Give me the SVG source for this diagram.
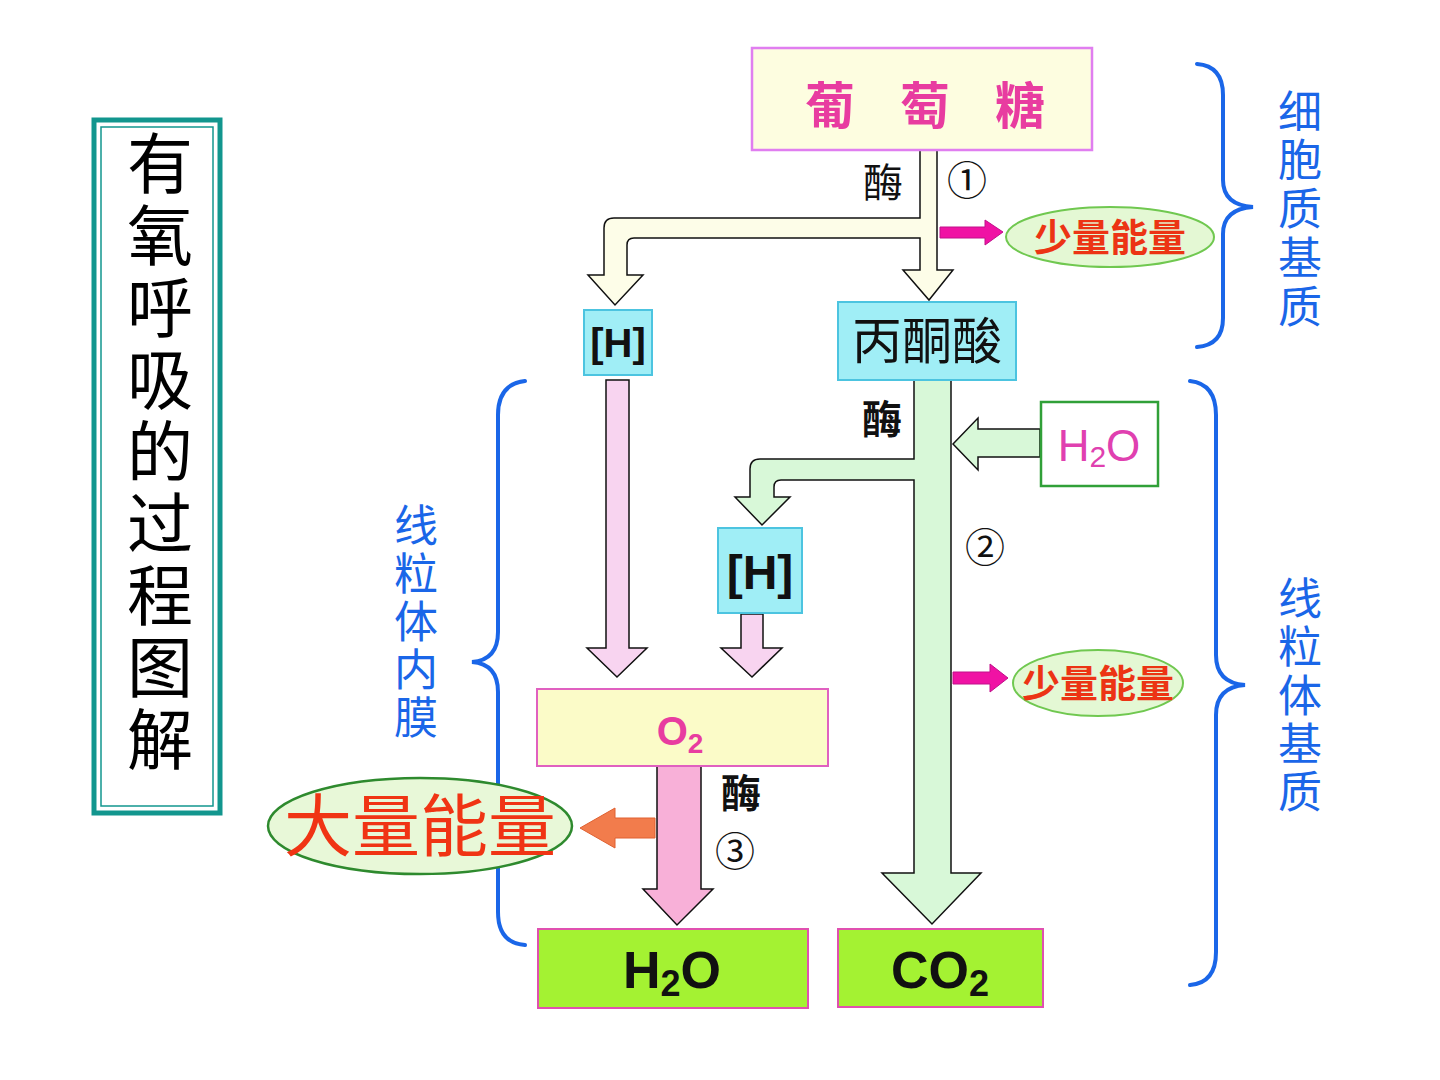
<svg xmlns="http://www.w3.org/2000/svg" width="1440" height="1080" viewBox="0 0 1440 1080">
<defs>
<style>
.cjk{font-family:"Noto Sans CJK SC","Noto Sans",sans-serif;}
.lat{font-family:"Liberation Sans",Arial,sans-serif;}
.blue{fill:#1a66e8;font-size:44px;}
.brace{fill:none;stroke:#1a66e8;stroke-width:4;stroke-linecap:round;}
.arr{stroke:#111;stroke-width:1.5;stroke-linejoin:miter;}
.mag{fill:#f012a4;stroke:#c0108a;stroke-width:1;}
.cyan{fill:#a0eef6;stroke:#4cc4e0;stroke-width:2;}
.lime{fill:#a4f232;stroke:#e050b0;stroke-width:2;}
.ell{fill:#e4f8d4;stroke:#70c850;stroke-width:2;}
.red{fill:#ec3414;font-weight:bold;}
.mei{fill:#111;font-size:40px;}
</style>
</defs>
<rect width="1440" height="1080" fill="#ffffff"/>

<!-- Title -->
<g id="title">
<rect x="94" y="120" width="126" height="693" fill="#ffffff" stroke="#12968e" stroke-width="5"/>
<rect x="101" y="127" width="112" height="679" fill="none" stroke="#12968e" stroke-width="1.5"/>
<text class="cjk" font-size="66" fill="#000" text-anchor="middle"><tspan x="160" y="188">有</tspan><tspan x="160" y="260">氧</tspan><tspan x="160" y="332">呼</tspan><tspan x="160" y="404">吸</tspan><tspan x="160" y="476">的</tspan><tspan x="160" y="548">过</tspan><tspan x="160" y="620">程</tspan><tspan x="160" y="692">图</tspan><tspan x="160" y="764">解</tspan></text>
</g>

<!-- Connectors -->
<g id="connectors">
<path class="arr" fill="#fdfde8" d="M920,150 L920,218 L614,218 Q604,218 604,228 L604,275 L588,275 L615,305 L643,275 L627,275 L627,245 Q627,238 634,238 L920,238 L920,270 L903,270 L929,300 L953,270 L937,270 L937,150 Z"/>
<path class="mag" d="M940,227 L985,227 L985,220 L1003,232 L985,245 L985,238 L940,238 Z"/>
<path class="arr" fill="#d8f8d8" d="M914,380 L914,459 L760,459 Q750,459 750,469 L750,497 L735,497 L762,525 L790,497 L774,497 L774,487 Q774,480 781,480 L914,480 L914,873 L882,873 L932,924 L981,873 L951,873 L951,380 Z"/>
<path class="arr" fill="#d8f8d8" d="M953,444 L978,418 L978,429 L1040,429 L1040,457 L978,457 L978,470 Z"/>
<path class="mag" d="M953,672 L990,672 L990,664 L1008,678 L990,692 L990,684 L953,684 Z"/>
<path class="arr" fill="#f8d4f0" d="M606,380 L606,648 L587,648 L617,677 L647,648 L629,648 L629,380 Z"/>
<path class="arr" fill="#f8d4f0" d="M741,614 L741,648 L721,648 L752,677 L782,648 L763,648 L763,614 Z"/>
<path class="arr" fill="#f8b0d8" d="M657,766 L657,889 L643,889 L677,925 L713,889 L701,889 L701,766 Z"/>
<path d="M580,828 L615,808 L615,818 L655,818 L655,838 L615,838 L615,848 Z" fill="#f27c4c" stroke="#e06030" stroke-width="1"/>
</g>

<!-- Nodes -->
<g id="glucose">
<rect x="752" y="48" width="340" height="102" fill="#fdfde0" stroke="#e07ef0" stroke-width="2.5"/>
<text class="cjk" font-size="50" font-weight="bold" fill="#e83ca0" text-anchor="middle"><tspan x="830" y="124">葡</tspan><tspan x="925" y="124">萄</tspan><tspan x="1020" y="124">糖</tspan></text>
</g>
<g id="mei1"><text class="cjk mei" x="883" y="197" text-anchor="middle">酶</text></g>
<g id="step1"><text class="cjk" x="967" y="195" font-size="40" fill="#111" text-anchor="middle">①</text></g>
<g id="energy1">
<ellipse class="ell" cx="1110" cy="237" rx="104" ry="30"/>
<text class="cjk red" x="1110" y="251" font-size="38" text-anchor="middle">少量能量</text>
</g>
<g id="H1">
<rect class="cyan" x="584" y="310" width="68" height="65"/>
<text class="lat" x="618" y="357" font-size="40" font-weight="bold" fill="#111" text-anchor="middle">[H]</text>
</g>
<g id="pyruvate">
<rect class="cyan" x="838" y="302" width="178" height="78"/>
<text class="cjk" x="927" y="359" font-size="50" fill="#111" text-anchor="middle">丙酮酸</text>
</g>
<g id="brace-top">
<path class="brace" d="M1197,64 Q1223,66 1223,95 L1223,180 Q1223,205 1253,207 Q1223,209 1223,234 L1223,318 Q1223,345 1197,347"/>
<text class="cjk blue" text-anchor="middle"><tspan x="1300" y="128">细</tspan><tspan x="1300" y="176">胞</tspan><tspan x="1300" y="225">质</tspan><tspan x="1300" y="274">基</tspan><tspan x="1300" y="323">质</tspan></text>
</g>
<g id="mei2"><text class="cjk mei" x="882" y="434" text-anchor="middle" font-weight="bold">酶</text></g>
<g id="water-in">
<rect x="1041" y="402" width="117" height="84" fill="#ffffff" stroke="#30a038" stroke-width="2.5"/>
<text class="lat" x="1099" y="461" font-size="44" fill="#e040b0" text-anchor="middle">H<tspan font-size="30" dy="6">2</tspan><tspan dy="-6">O</tspan></text>
</g>
<g id="H2">
<rect class="cyan" x="718" y="528" width="84" height="85"/>
<text class="lat" x="760" y="589" font-size="48" font-weight="bold" fill="#111" text-anchor="middle">[H]</text>
</g>
<g id="step2"><text class="cjk" x="985" y="562" font-size="40" fill="#111" text-anchor="middle">②</text></g>
<g id="energy2">
<ellipse class="ell" cx="1098" cy="683" rx="85" ry="33"/>
<text class="cjk red" x="1098" y="697" font-size="38" text-anchor="middle">少量能量</text>
</g>
<g id="brace-right">
<path class="brace" d="M1190,381 Q1216,384 1216,415 L1216,655 Q1216,683 1245,685 Q1216,687 1216,715 L1216,952 Q1216,983 1190,985"/>
<text class="cjk blue" text-anchor="middle"><tspan x="1300" y="615">线</tspan><tspan x="1300" y="663">粒</tspan><tspan x="1300" y="712">体</tspan><tspan x="1300" y="760">基</tspan><tspan x="1300" y="808">质</tspan></text>
</g>
<g id="brace-left">
<path class="brace" d="M525,381 Q498,384 498,415 L498,632 Q498,660 472,662 Q498,664 498,692 L498,912 Q498,943 525,945"/>
<text class="cjk blue" text-anchor="middle" font-size="42"><tspan x="416" y="542">线</tspan><tspan x="416" y="590">粒</tspan><tspan x="416" y="638">体</tspan><tspan x="416" y="686">内</tspan><tspan x="416" y="734">膜</tspan></text>
</g>
<g id="oxygen">
<rect x="537" y="689" width="291" height="77" fill="#fbfbc8" stroke="#e060c0" stroke-width="2"/>
<text class="lat" x="680" y="745" font-size="40" font-weight="bold" fill="#e83ca0" text-anchor="middle">O<tspan font-size="28" dy="8">2</tspan></text>
</g>
<g id="mei3"><text class="cjk mei" x="741" y="808" font-size="42" font-weight="bold" text-anchor="middle">酶</text></g>
<g id="step3"><text class="cjk" x="735" y="866" font-size="40" fill="#111" text-anchor="middle">③</text></g>
<g id="energy-big">
<ellipse cx="420" cy="826" rx="152" ry="48" fill="#e8f8d8" stroke="#2e8a2e" stroke-width="2.5"/>
<text class="cjk" x="420" y="851" font-size="68" fill="#f03414" text-anchor="middle">大量能量</text>
</g>
<g id="water-out">
<rect class="lime" x="538" y="929" width="270" height="79"/>
<text class="lat" x="672" y="988" font-size="52" font-weight="900" fill="#111" text-anchor="middle">H<tspan font-size="36" dy="8">2</tspan><tspan dy="-8">O</tspan></text>
</g>
<g id="co2">
<rect class="lime" x="838" y="929" width="205" height="78"/>
<text class="lat" x="940" y="988" font-size="52" font-weight="900" fill="#111" text-anchor="middle">CO<tspan font-size="36" dy="8">2</tspan></text>
</g>
</svg>
